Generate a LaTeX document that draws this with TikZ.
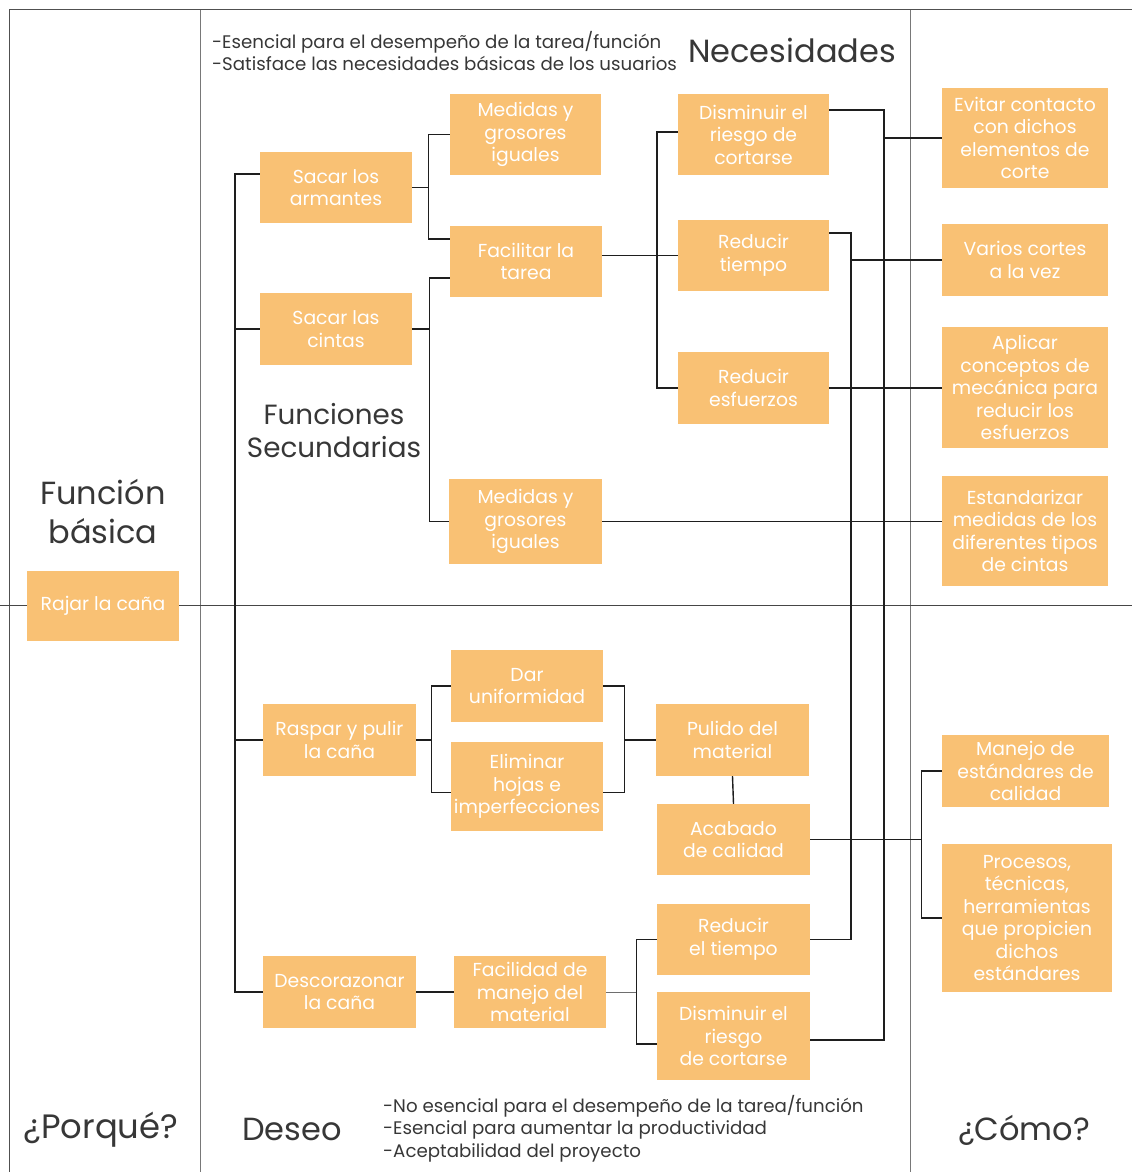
\documentclass[tikz,border=0pt]{standalone}
\usepackage{fontspec}
\setmainfont{Poppins}
\definecolor{naranja}{RGB}{249,193,116}
\definecolor{tinta}{RGB}{55,55,55}

\begin{document}
\begin{tikzpicture}[x=1pt,y=1pt,yscale=-1,
  caja/.style={fill=naranja, text=white, align=center, inner sep=0pt, font=\fontsize{18.8}{22.5}\selectfont},
  linea/.style={draw={rgb,255:red,30;green,30;blue,30}, line width=1.4pt},
  marco/.style={draw={rgb,255:red,120;green,120;blue,120}, line width=1pt},
  titulo/.style={text=tinta, align=center, inner sep=0pt, font=\fontsize{32}{39}\selectfont},
  nota/.style={text=tinta, align=left, inner sep=0pt, anchor=west, font=\fontsize{18.2}{22.5}\selectfont}]
\useasboundingbox (0,0) rectangle (1132,1172);

%Straight Lines: frame
\draw [marco, draw={rgb,255:red,80;green,80;blue,80}] (9,1172) -- (9,10) -- (1132,10) ;
\draw [marco] (200,10) -- (200,1172) ;
\draw [marco] (910,10) -- (910,1172) ;
\draw [marco, draw={rgb,255:red,70;green,70;blue,70}] (0,605) -- (1132,605) ;

%Shape: Rectangle (boxes)
\node [caja, minimum width=152, minimum height=70] (rajar) at (103,606) {Rajar la caña};
\node [caja, minimum width=152, minimum height=71] (armantes) at (336,187.5) {Sacar los\\armantes};
\node [caja, minimum width=152, minimum height=72] (cintas) at (336,329) {Sacar las\\cintas};
\node [caja, minimum width=151, minimum height=81] (medidasA) at (525.5,134.5) {Medidas y\\grosores\\iguales};
\node [caja, minimum width=152, minimum height=71] (facilitar) at (526,261.5) {Facilitar la\\tarea};
\node [caja, minimum width=153, minimum height=85] (medidasB) at (525.5,521.5) {Medidas y\\grosores\\iguales};
\node [caja, minimum width=151, minimum height=81] (disminuirA) at (753.5,134.5) {Disminuir el\\riesgo de\\cortarse};
\node [caja, minimum width=151, minimum height=71] (reducirA) at (753.5,255.5) {Reducir\\tiempo};
\node [caja, minimum width=151, minimum height=72] (esfuerzos) at (753.5,388) {Reducir\\esfuerzos};
\node [caja, minimum width=166, minimum height=100] (evitar) at (1025,138) {Evitar contacto\\con dichos\\elementos de\\corte};
\node [caja, minimum width=166, minimum height=72] (varios) at (1025,260) {Varios cortes\\a la vez};
\node [caja, minimum width=166, minimum height=121] (aplicar) at (1025,387.5) {Aplicar\\conceptos de\\mecánica para\\reducir los\\esfuerzos};
\node [caja, minimum width=166, minimum height=110] (estandarizar) at (1025,531) {Estandarizar\\medidas de los\\diferentes tipos\\de cintas};
\node [caja, minimum width=153, minimum height=72] (raspar) at (339.5,740) {Raspar y pulir\\la caña};
\node [caja, minimum width=153, minimum height=72] (descorazonar) at (339.5,992) {Descorazonar\\la caña};
\node [caja, minimum width=152, minimum height=72] (dar) at (527,686) {Dar\\uniformidad};
\node [caja, minimum width=152, minimum height=89] (eliminar) at (527,786.5) {Eliminar\\hojas e\\imperfecciones};
\node [caja, minimum width=153, minimum height=72] (pulido) at (732.5,740) {Pulido del\\material};
\node [caja, minimum width=153, minimum height=71] (acabado) at (733.5,839.5) {Acabado\\de calidad};
\node [caja, minimum width=153, minimum height=71] (reducirB) at (733.5,939.5) {Reducir\\el tiempo};
\node [caja, minimum width=153, minimum height=88] (disminuirB) at (733.5,1036) {Disminuir el\\riesgo\\de cortarse};
\node [caja, minimum width=152, minimum height=72] (facilidad) at (530,992) {Facilidad de\\manejo del\\material};
\node [caja, minimum width=167, minimum height=72] (manejo) at (1025.5,771) {Manejo de\\estándares de\\calidad};
\node [caja, minimum width=170, minimum height=148] (procesos) at (1027,918) {Procesos,\\técnicas,\\herramientas\\que propicien\\dichos\\estándares};

%Straight Lines: connectors
\coordinate (tronco) at (235,174);
\draw [linea] ([yshift=-13.5pt]armantes.west) -- (tronco) |- (descorazonar.west) ;
\draw [linea] (cintas.west) -- (cintas.west -| tronco) ;
\draw [linea] (raspar.west) -- (raspar.west -| tronco) ;

\draw [linea] (armantes.east) -- ++(16,0) coordinate (ramaA) ;
\draw [linea] (medidasA.west) -| (ramaA) ;
\draw [linea] ([yshift=-22.5pt]facilitar.west) -| (ramaA) ;

\draw [linea] (cintas.east) -- ++(17,0) coordinate (ramaB) ;
\draw [linea] ([yshift=16.5pt]facilitar.west) -| (ramaB) ;
\draw [linea] (medidasB.west) -| (ramaB) ;

\draw [linea] (facilitar.east |- reducirA.west) -- (reducirA.west) ;
\draw [linea] ([yshift=-2.5pt]disminuirA.west) -- ++(-21,0) |- (esfuerzos.west) ;

\coordinate (bajadaA) at (884,110);
\draw [linea] ([yshift=-24.5pt]disminuirA.east) -- (bajadaA) |- ([yshift=4pt]disminuirB.east) ;
\draw [linea] (evitar.west) -- (evitar.west -| bajadaA) ;

\coordinate (bajadaB) at (851,233);
\draw [linea] ([yshift=-22.5pt]reducirA.east) -- (bajadaB) |- (reducirB.east) ;
\draw [linea] (varios.west) -- (varios.west -| bajadaB) ;

\draw [linea] (esfuerzos.east) -- (esfuerzos.east -| aplicar.west) ;
\draw [linea] (medidasB.east) -- (medidasB.east -| estandarizar.west) ;

\draw [linea] (raspar.east) -- ++(15,0) coordinate (ramaC) ;
\draw [linea] (dar.west) -| (ramaC) ;
\draw [linea] ([yshift=6pt]eliminar.west) -| (ramaC) ;

\draw [linea] (dar.east) -- ++(21,0) |- ([yshift=6pt]eliminar.east) ;
\draw [linea] (pulido.west) -- ++(-32,0) ;
\draw [linea] (pulido.south) -- (acabado.north) ;

\draw [linea] (acabado.east) -- ++(111,0) coordinate (ramaD) ;
\draw [linea] (manejo.west) -| (ramaD) ;
\draw [linea] (procesos.west) -| (ramaD) ;

\draw [linea] (descorazonar.east) -- (facilidad.west) ;
\draw [linea, draw={rgb,255:red,110;green,110;blue,110}, line width=1pt] (facilidad.east) -- ++(30,0) coordinate (ramaE) ;
\draw [linea] (reducirB.west) -| (ramaE) ;
\draw [linea] ([yshift=8pt]disminuirB.west) -| (ramaE) ;

% Text Node
\node [nota] (esencial) at (212,51) {-Esencial para el desempeño de la tarea/función\\-Satisface las necesidades básicas de los usuarios};
% Text Node
\node [titulo] (necesidades) at (792,50) {Necesidades};
% Text Node
\node [titulo] (basica) at (103,511.5) {Función\\básica};
% Text Node
\node [titulo, font=\fontsize{27.8}{33}\selectfont] (secundarias) at (334,431) {Funciones\\Secundarias};
% Text Node
\node [titulo, font=\fontsize{33.8}{39}\selectfont] (porque) at (101,1130) {¿Porqué?};
% Text Node
\node [titulo] (deseo) at (292,1129) {Deseo};
% Text Node
\node [titulo] (como) at (1024,1130) {¿Cómo?};
% Text Node
\node [nota] (noesencial) at (383,1128.5) {-No esencial para el desempeño de la tarea/función\\-Esencial para aumentar la productividad\\-Aceptabilidad del proyecto};

\end{tikzpicture}
\end{document}
